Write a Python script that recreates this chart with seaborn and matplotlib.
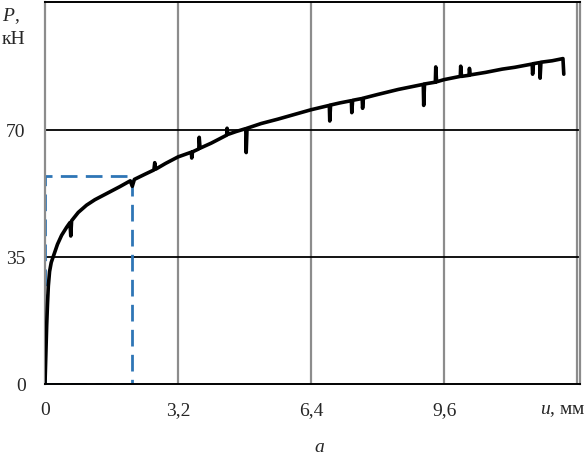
import matplotlib
matplotlib.use('Agg')
import matplotlib.pyplot as plt
import seaborn as sns
import pandas as pd

# load curve: displacement u (mm) and force P (kN)
u_mm = [0, 0.02, 0.04, 0.06, 0.08, 0.11, 0.15, 0.21, 0.3, 0.4, 0.52, 0.6, 0.62, 0.64,
        0.8, 1.0, 1.2, 1.5, 1.8, 2.05, 2.1, 2.15, 2.4, 2.62, 2.64, 2.66, 2.9, 3.2,
        3.52, 3.53, 3.55, 3.7, 3.71, 3.73, 4.0, 4.37, 4.38, 4.4, 4.6, 4.83, 4.84, 4.86,
        5.2, 5.6, 6.0, 6.4, 6.84, 6.85, 6.87, 7.1, 7.37, 7.38, 7.4, 7.63, 7.64, 7.66,
        8.0, 8.5, 9.1, 9.11, 9.13, 9.39, 9.4, 9.42, 9.6, 9.99, 10.0, 10.02, 10.2, 10.21,
        10.23, 10.6, 11.0, 11.3, 11.72, 11.73, 11.75, 11.9, 11.91, 11.93, 12.2, 12.46, 12.48]
p_kn = [0, 8, 16, 22, 27, 31, 33.5, 35.5, 38.5, 41, 43.2, 44.5, 40.8, 45,
        47.3, 49.3, 50.8, 52.6, 54.4, 56.0, 54.5, 56.4, 57.8, 59, 61, 59.2, 60.8, 62.6,
        63.9, 62.3, 64.0, 64.8, 68.0, 65.0, 66.4, 68.6, 70.5, 68.8, 69.6, 70.4, 63.8, 70.5,
        71.8, 73.0, 74.3, 75.6, 76.8, 72.5, 76.9, 77.5, 78.1, 74.8, 78.2, 78.7, 76.0, 78.8,
        79.8, 81.2, 82.6, 76.8, 82.7, 83.2, 87.4, 83.3, 83.9, 84.8, 87.6, 84.8, 85.1, 87.0,
        85.2, 85.9, 86.8, 87.3, 88.2, 85.4, 88.3, 88.6, 84.3, 88.7, 89.1, 89.7, 85.4]

# dashed zoom box corners
box_u = [0, 2.1, 2.1, 0, 0]
box_p = [0, 0, 57.3, 57.3, 0]

x_ticks = [0, 3.2, 6.4, 9.6, 12.8]
x_labels = ['0', '3,2', '6,4', '9,6', '']
y_ticks = [0, 35, 70]
y_labels = ['0', '35', '70']

sns.set_style('white')
plt.rcParams['font.family'] = ['Liberation Serif', 'DejaVu Serif']
plt.rcParams['mathtext.fontset'] = 'custom'
plt.rcParams['mathtext.it'] = 'Liberation Serif:italic'
plt.rcParams['mathtext.rm'] = 'Liberation Serif'

df = pd.DataFrame({'u': u_mm, 'P': p_kn})
box = pd.DataFrame({'u': box_u, 'P': box_p})

fig = plt.figure(figsize=(5.87, 4.65), dpi=100)
ax = fig.add_axes([45 / 587, 1 - 384 / 465, 535 / 587, 382 / 465])

# grid lines
for xv in x_ticks[1:]:
    ax.axvline(xv, color='#8c8c8c', lw=1.6, zorder=1)
for yv in y_ticks[1:]:
    ax.axhline(yv, color='black', lw=1.3, zorder=1)

sns.lineplot(data=box, x='u', y='P', sort=False, estimator=None, ax=ax,
             color='#2e75b6', lw=2.0, linestyle=(0, (6, 3)), zorder=2)
sns.lineplot(data=df, x='u', y='P', sort=False, estimator=None, ax=ax,
             color='black', lw=2.6, zorder=3)

ax.set_xlim(0, 12.87)
ax.set_ylim(0, 105.3)
ax.set_xticks(x_ticks)
ax.set_xticklabels(x_labels)
ax.set_yticks(y_ticks)
ax.set_yticklabels(y_labels)
ax.tick_params(axis='both', length=0, labelsize=14)
ax.tick_params(axis='x', pad=13)
ax.tick_params(axis='y', pad=14)
ax.set_xlabel('')
ax.set_ylabel('')

for side in ['top', 'bottom']:
    ax.spines[side].set_color('black')
    ax.spines[side].set_linewidth(1.4)
for side in ['left', 'right']:
    ax.spines[side].set_color('#8c8c8c')
    ax.spines[side].set_linewidth(1.6)

fig.text(2 / 587, 1 - 16 / 465, '$\\mathit{P}$,', fontsize=14, va='center', ha='left')
fig.text(2 / 587, 1 - 40 / 465, 'кН', fontsize=14, va='center', ha='left')
fig.text(586 / 587, 1 - 410 / 465, '$\\mathit{u}$, мм', fontsize=14, va='center', ha='right')
fig.text(320 / 587, 1 - 447 / 465, '$\\mathit{a}$', fontsize=14, va='center', ha='center')

fig.savefig('out.png', dpi=100)
